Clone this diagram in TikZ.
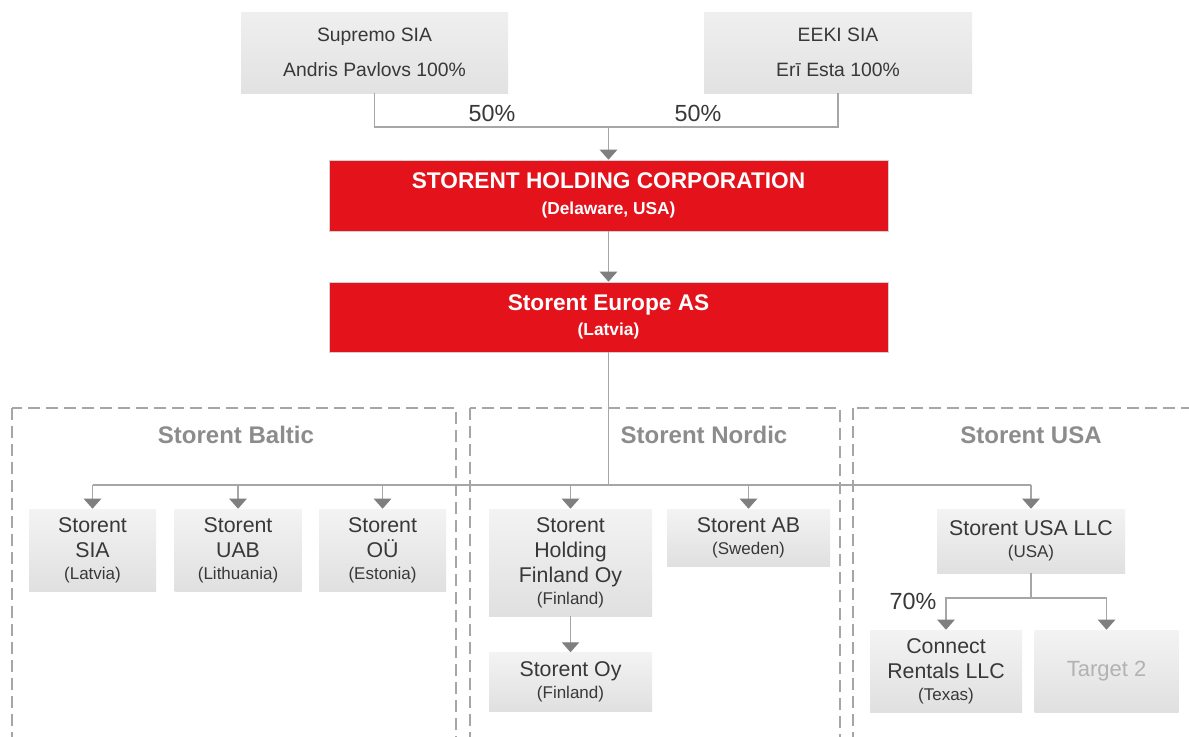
\documentclass[tikz,border=0pt]{standalone}
\usepackage{fontspec}
\setmainfont{Liberation Sans}
\usetikzlibrary{arrows.meta,positioning}
\definecolor{storred}{HTML}{E3121B}
\definecolor{linegray}{HTML}{A6A6A6}
\definecolor{tipgray}{HTML}{7F7F7F}
\definecolor{textgray}{HTML}{383838}
\definecolor{titlegray}{HTML}{8C8C8C}
\definecolor{boxtop}{HTML}{F3F3F3}
\definecolor{boxbot}{HTML}{E0E0E0}
\newcommand\subloc[1]{{\fontsize{12.75}{14}\selectfont #1}}
\tikzset{boxsize/.style 2 args={ % box size given in pixels of the reference
            minimum width=#1*0.75pt,
            minimum height=#2*0.75pt},
        company/.style={ % grey subsidiary boxes
            inner sep=0pt,
            top color=boxtop, bottom color=boxbot,
            text=textgray, align=center,
            font=\fontsize{16}{18.75}\selectfont},
        owner/.style={
            company,
            top color=boxtop!80!boxbot, bottom color=boxbot!90!boxtop,
            font=\fontsize{14.5}{26.25}\selectfont},
        parent/.style={ % red holding boxes
            inner sep=0pt,
            fill=storred, draw=gray!35,
            text=white, align=center,
            font=\bfseries\fontsize{17}{20}\selectfont},
        grouptitle/.style={
            text=titlegray,
            font=\bfseries\fontsize{18}{20}\selectfont},
        group/.style={ % dashed frames round each region
            draw=linegray, line width=1.5pt,
            dash pattern=on 9pt off 4.5pt},
        pct/.style={
            text=textgray,
            font=\fontsize{17.5}{20}\selectfont},
        link/.style={
            draw=linegray, line width=1pt},
        arr/.style={
            link,
            -{Triangle[width=13pt,length=7.5pt,color=tipgray]}}
        }

\begin{document}
\begin{tikzpicture}[x=0.75pt, y=-0.75pt]
    \clip (0,0) rectangle (1189,736);
    \fill[white] (0,0) rectangle (1189,736);

    % regions
    \draw[group] (12,408) rectangle (456,770);
    \draw[group] (470,408) rectangle (840,770);
    \draw[group] (853,408) rectangle (1210,770);
    \node[grouptitle] (baltic) at (236,435) {Storent Baltic};
    \node[grouptitle] (nordic) at (704,435) {Storent Nordic};
    \node[grouptitle] (usa) at (1031,435) {Storent USA};

    % owners and holding
    \node[owner, boxsize={267}{81}] (supremo) at (374.5,52.5) {Supremo SIA\\Andris Pavlovs 100\%};
    \node[owner, boxsize={268}{81}] (eeki) at (838,52.5) {EEKI SIA\\Erī Esta 100\%};
    \node[parent, boxsize={559}{71}] (holding) at (608.5,195.5)
        {STORENT HOLDING CORPORATION\\[-1pt]{\fontsize{13}{15}\selectfont (Delaware, USA)}};
    \node[parent, boxsize={559}{70}] (europe) at (608.5,317)
        {Storent Europe AS\\[-1pt]{\fontsize{13}{15}\selectfont (Latvia)}};

    % Baltic
    \node[company, boxsize={127}{82}] (sia) at (92.5,550) {Storent\\SIA\\[-2pt]\subloc{(Latvia)}};
    \node[company, boxsize={127}{82}, right=13.5pt of sia] (uab) {Storent\\UAB\\[-2pt]\subloc{(Lithuania)}};
    \node[company, boxsize={127}{82}, right=12.75pt of uab] (ou) {Storent\\OÜ\\[-2pt]\subloc{(Estonia)}};

    % Nordic
    \node[company, boxsize={163}{107}] (hfin) at (570.5,562.5) {Storent\\Holding\\Finland Oy\\[-2pt]\subloc{(Finland)}};
    \node[company, boxsize={163}{57}] (storab) at (748.5,537.5) {Storent AB\\[-2pt]\subloc{(Sweden)}};
    \node[company, boxsize={163}{59}, below=27pt of hfin] (oy) {Storent Oy\\[-2pt]\subloc{(Finland)}};

    % USA
    \node[company, boxsize={188}{64}] (usallc) at (1031,541) {Storent USA LLC\\[-2pt]\subloc{(USA)}};
    \node[company, boxsize={152}{82}] (connect) at (946,671) {Connect\\Rentals LLC\\[-2pt]\subloc{(Texas)}};
    \node[company, boxsize={144}{82}, right=9pt of connect, text=gray!60, font=\fontsize{16.5}{19}\selectfont] (target) {Target 2};

    % ownership lines
    \coordinate (jtop) at (608.5,127);
    \coordinate (bus) at (608.5,485);
    \coordinate (usafork) at (1031,598);
    \draw[link] (supremo.south) |- (jtop) -| (eeki.south);
    \draw[arr] (jtop) -- (holding);
    \draw[arr] (holding) -- (europe);
    \draw[link] (europe.south) -- (bus);
    \draw[link] (sia.north |- bus) -- (usallc.north |- bus);
    \foreach \n in {sia, uab, ou, hfin, storab, usallc}
        \draw[arr] (\n.north |- bus) -- (\n.north);
    \draw[arr] (hfin) -- (oy);
    \draw[link] (usallc) -- (usafork);
    \draw[arr] (usafork) -| (connect);
    \draw[arr] (usafork) -| (target);

    \node[pct] (left50) at (492,113) {50\%};
    \node[pct] (right50) at (698,113) {50\%};
    \node[pct] (conn70) at (913,601) {70\%};
\end{tikzpicture}
\end{document}
